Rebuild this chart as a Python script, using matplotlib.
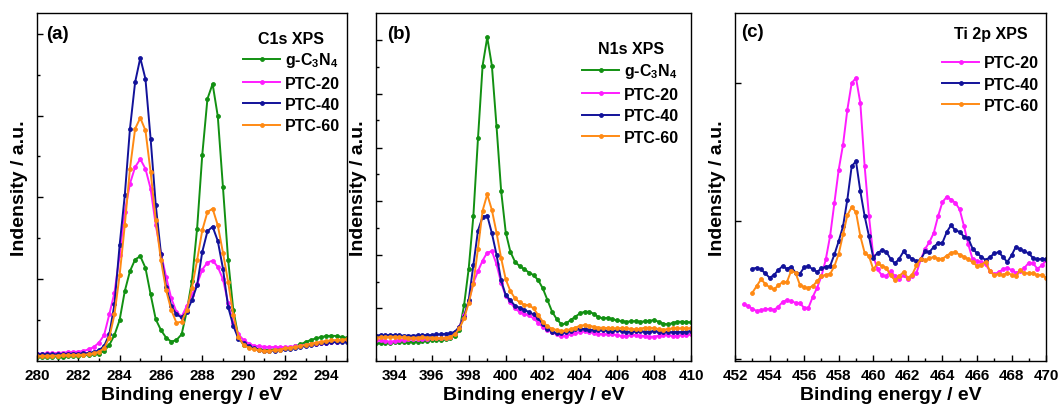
import numpy as np
import matplotlib
matplotlib.use("Agg")
import matplotlib.pyplot as plt
from matplotlib.ticker import MultipleLocator, FixedLocator

plt.rcParams["font.family"] = ["Liberation Sans", "DejaVu Sans"]
plt.rcParams["font.weight"] = "bold"
plt.rcParams["mathtext.fontset"] = "custom"
plt.rcParams["mathtext.bf"] = "Liberation Sans:bold"
plt.rcParams["mathtext.rm"] = "Liberation Sans:bold"
plt.rcParams["mathtext.default"] = "bf"

GREEN = "#129012"
PINK = "#ff1cff"
NAVY = "#12129a"
ORANGE = "#ff8a14"

# ---- C1s (a), 280-295 eV, 0.25 eV step
c1s_x = np.arange(280, 295.001, 0.25)
c1s_g = [12, 12, 12, 13, 13, 13, 14, 15, 16, 17, 18, 20, 22, 30, 48, 78,
         123, 210, 270, 305, 315, 280, 200, 125, 93, 70, 58, 63, 80, 150, 241, 398,
         620, 788, 833, 736, 523, 305, 154, 72, 48, 42, 38, 35, 33, 34, 35, 36,
         38, 40, 44, 50, 57, 63, 68, 72, 75, 76, 75, 72, 70]
c1s_20 = [22, 22, 23, 24, 24, 25, 26, 27, 28, 30, 35, 42, 55, 78, 140, 205,
          318, 448, 533, 583, 607, 578, 518, 408, 323, 253, 188, 148, 133, 165, 199, 231,
          275, 296, 302, 283, 246, 175, 113, 80, 63, 52, 46, 44, 43, 42, 42, 42,
          42, 43, 44, 46, 48, 50, 52, 54, 55, 57, 58, 59, 60]
c1s_40 = [20, 20, 20, 20, 20, 21, 22, 22, 22, 23, 24, 27, 32, 45, 80, 170,
          348, 498, 698, 838, 911, 848, 668, 468, 323, 223, 166, 140, 131, 148, 183, 228,
          328, 390, 404, 361, 278, 163, 106, 67, 53, 45, 38, 34, 30, 30, 31, 32,
          35, 37, 40, 42, 45, 48, 52, 54, 55, 56, 57, 58, 58]
c1s_60 = [15, 15, 16, 16, 16, 17, 17, 18, 18, 19, 20, 23, 28, 38, 70, 140,
          258, 408, 578, 698, 731, 693, 568, 423, 303, 213, 153, 115, 118, 153, 220, 303,
          393, 448, 458, 408, 326, 238, 138, 73, 48, 40, 35, 32, 30, 31, 32, 34,
          38, 40, 42, 45, 48, 52, 55, 58, 60, 62, 63, 64, 65]

# ---- N1s (b), 393-410 eV, 0.25 eV step
n1s_x = np.arange(393, 410.001, 0.25)
n1s_g = [53, 53, 55, 55, 56, 58, 58, 58, 56, 58, 60, 60, 63, 63, 63, 65, 68, 76, 93, 168,
         278, 435, 669, 888, 973, 888, 706, 511, 386, 328, 298, 285, 276, 266, 258, 243,
         218, 183, 148, 126, 110,
         113, 123, 133, 143, 148, 148, 142, 132, 128, 130, 126, 122, 120, 118, 119, 120,
         118, 119, 121, 123, 118, 112, 110, 114, 118, 118, 117, 116]
n1s_20 = [63, 62, 60, 58, 60, 62, 64, 65, 66, 66, 66, 67, 68, 68, 68, 70, 73, 83, 103, 138,
          178, 235, 270, 302, 326, 330, 291, 235, 195, 176, 158, 147, 142, 137, 128, 115,
          102, 93, 86, 80, 76,
          76, 80, 84, 88, 90, 88, 85, 82, 80, 80, 80, 78, 75, 75, 78, 78,
          76, 75, 73, 73, 76, 78, 78, 75, 76, 78, 79, 80]
n1s_40 = [76, 78, 77, 78, 78, 77, 76, 76, 76, 77, 78, 78, 78, 80, 80, 82, 83, 88, 103, 133,
          183, 288, 392, 433, 437, 384, 320, 242, 198, 182, 166, 160, 154, 147, 140, 128,
          111, 97, 88, 83, 84,
          86, 90, 96, 97, 96, 94, 93, 93, 92, 91, 90, 92, 90, 88, 88, 89,
          90, 88, 88, 90, 88, 88, 87, 86, 86, 87, 88, 90]
n1s_60 = [70, 72, 72, 73, 73, 72, 71, 70, 70, 70, 71, 70, 70, 69, 68, 70, 73, 80, 98, 128,
          175, 232, 338, 452, 501, 454, 386, 309, 245, 210, 188, 176, 169, 168, 158, 138,
          118, 104, 97, 93, 90,
          92, 96, 100, 106, 108, 106, 103, 100, 100, 99, 98, 98, 99, 98, 97, 95,
          97, 100, 100, 99, 96, 94, 96, 98, 98, 98, 98, 98]

# ---- Ti 2p (c), 0.25 eV step
ti_x20 = np.arange(452.5, 470.001, 0.25)
ti_x = np.arange(453, 470.001, 0.25)
ti_20 = [170, 165, 157, 150, 153, 155, 157, 153, 163, 177,
         183, 179, 175, 173, 160, 160, 193, 220, 255, 305,
         375, 475, 575, 650, 755, 835, 850, 775, 585, 435,
         315, 275, 257, 255, 270, 255, 245, 257, 247, 255,
         265, 305, 337, 357, 385, 435, 477, 493, 485, 475,
         455, 405, 350, 305, 300, 297, 290, 270, 260, 267,
         275, 280, 273, 265, 270, 280, 295, 293, 277, 287, 302]
ti_40 = [277, 280, 275, 263, 250, 258, 273, 285, 277, 283,
         265, 262, 281, 285, 275, 268, 278, 283, 285, 320,
         360, 405, 485, 585, 600, 510, 435, 375, 310, 325,
         332, 328, 307, 293, 307, 329, 315, 307, 299, 305,
         329, 327, 343, 354, 355, 387, 408, 392, 388, 373,
         368, 337, 324, 313, 303, 312, 323, 327, 313, 297,
         317, 343, 335, 329, 323, 309, 305, 307, 305]
ti_60 = [205, 225, 245, 232, 221, 215, 227, 237, 237, 271,
         265, 229, 221, 220, 225, 240, 255, 259, 261, 285,
         322, 380, 438, 462, 447, 375, 325, 315, 275, 293,
         285, 280, 257, 243, 255, 267, 250, 259, 287, 307,
         302, 308, 313, 307, 307, 316, 325, 327, 319, 313,
         306, 296, 286, 289, 298, 270, 257, 262, 258, 265,
         259, 255, 273, 264, 263, 264, 257, 259, 250]

G_LABEL = "g-C$_3$N$_4$"


def style_axis(ax, xlim, xmajor, ylim, ymajor, yminor):
    ax.set_xlim(*xlim)
    ax.set_ylim(*ylim)
    ax.xaxis.set_major_locator(MultipleLocator(xmajor))
    ax.xaxis.set_minor_locator(MultipleLocator(xmajor / 2))
    ax.yaxis.set_major_locator(FixedLocator(ymajor))
    ax.yaxis.set_minor_locator(FixedLocator(yminor))
    ax.set_yticklabels([])
    ax.tick_params(axis="both", which="both", direction="in", top=False, right=False)
    ax.tick_params(axis="x", which="major", length=4, width=1, labelsize=11, pad=5)
    ax.tick_params(axis="x", which="minor", length=2, width=1)
    ax.tick_params(axis="y", which="major", length=4, width=1)
    ax.tick_params(axis="y", which="minor", length=2, width=1)
    for sp in ax.spines.values():
        sp.set_linewidth(1.0)
    for lab in ax.get_xticklabels():
        lab.set_fontweight("bold")
    ax.set_xlabel("Binding energy / eV", fontsize=14, fontweight="bold", labelpad=3)
    ax.set_ylabel("Indensity / a.u.", fontsize=14, fontweight="bold", labelpad=3)


def draw(ax, x, y, color, label):
    ax.plot(x, y, color=color, lw=1.4, marker="o", ms=2.8, mew=0.6,
            mfc=color, mec=color, label=label)


def add_legend(ax, title, anchor, sep):
    leg = ax.legend(loc="upper right", bbox_to_anchor=anchor, frameon=False,
                    fontsize=11.5, title=title, handlelength=2.3, handletextpad=0.3,
                    labelspacing=0.4, borderaxespad=0, borderpad=0)
    leg.get_title().set_fontweight("bold")
    leg.get_title().set_fontsize(11.5)
    leg._legend_box.sep = sep
    for t in leg.get_texts():
        t.set_fontweight("bold")


fig = plt.figure(figsize=(10.59, 4.06), dpi=100)
ax_a = fig.add_axes([0.0349, 0.1084, 0.2927, 0.857])
ax_b = fig.add_axes([0.3551, 0.1084, 0.2975, 0.857])
ax_c = fig.add_axes([0.6941, 0.1084, 0.2937, 0.857])

# (a) C1s
draw(ax_a, c1s_x, c1s_g, GREEN, G_LABEL)
draw(ax_a, c1s_x, c1s_20, PINK, "PTC-20")
draw(ax_a, c1s_x, c1s_40, NAVY, "PTC-40")
draw(ax_a, c1s_x, c1s_60, ORANGE, "PTC-60")
style_axis(ax_a, (280, 295), 2, (0, 1046),
           [246, 492, 738, 983], [122, 369, 615, 860])
add_legend(ax_a, "C1s XPS", (0.977, 0.948), 3)
ax_a.text(0.03, 0.965, "(a)", transform=ax_a.transAxes, fontsize=13.5,
          fontweight="bold", va="top", ha="left")

# (b) N1s
draw(ax_b, n1s_x, n1s_g, GREEN, G_LABEL)
draw(ax_b, n1s_x, n1s_20, PINK, "PTC-20")
draw(ax_b, n1s_x, n1s_40, NAVY, "PTC-40")
draw(ax_b, n1s_x, n1s_60, ORANGE, "PTC-60")
style_axis(ax_b, (393, 410), 2, (0, 1046),
           [158, 318, 480, 641, 803, 966], [78, 238, 400, 561, 723, 883])
add_legend(ax_b, "N1s XPS", (0.962, 0.92), 4)
ax_b.text(0.035, 0.965, "(b)", transform=ax_b.transAxes, fontsize=13.5,
          fontweight="bold", va="top", ha="left")

# (c) Ti 2p
draw(ax_c, ti_x20, ti_20, PINK, "PTC-20")
draw(ax_c, ti_x, ti_40, NAVY, "PTC-40")
draw(ax_c, ti_x, ti_60, ORANGE, "PTC-60")
style_axis(ax_c, (452, 470), 2, (0, 1045), [5, 420, 835], [])
add_legend(ax_c, "Ti 2p XPS", (0.977, 0.962), 10)
ax_c.text(0.02, 0.97, "(c)", transform=ax_c.transAxes, fontsize=13.5,
          fontweight="bold", va="top", ha="left")

fig.savefig("out.png", dpi=100)
plt.close(fig)
